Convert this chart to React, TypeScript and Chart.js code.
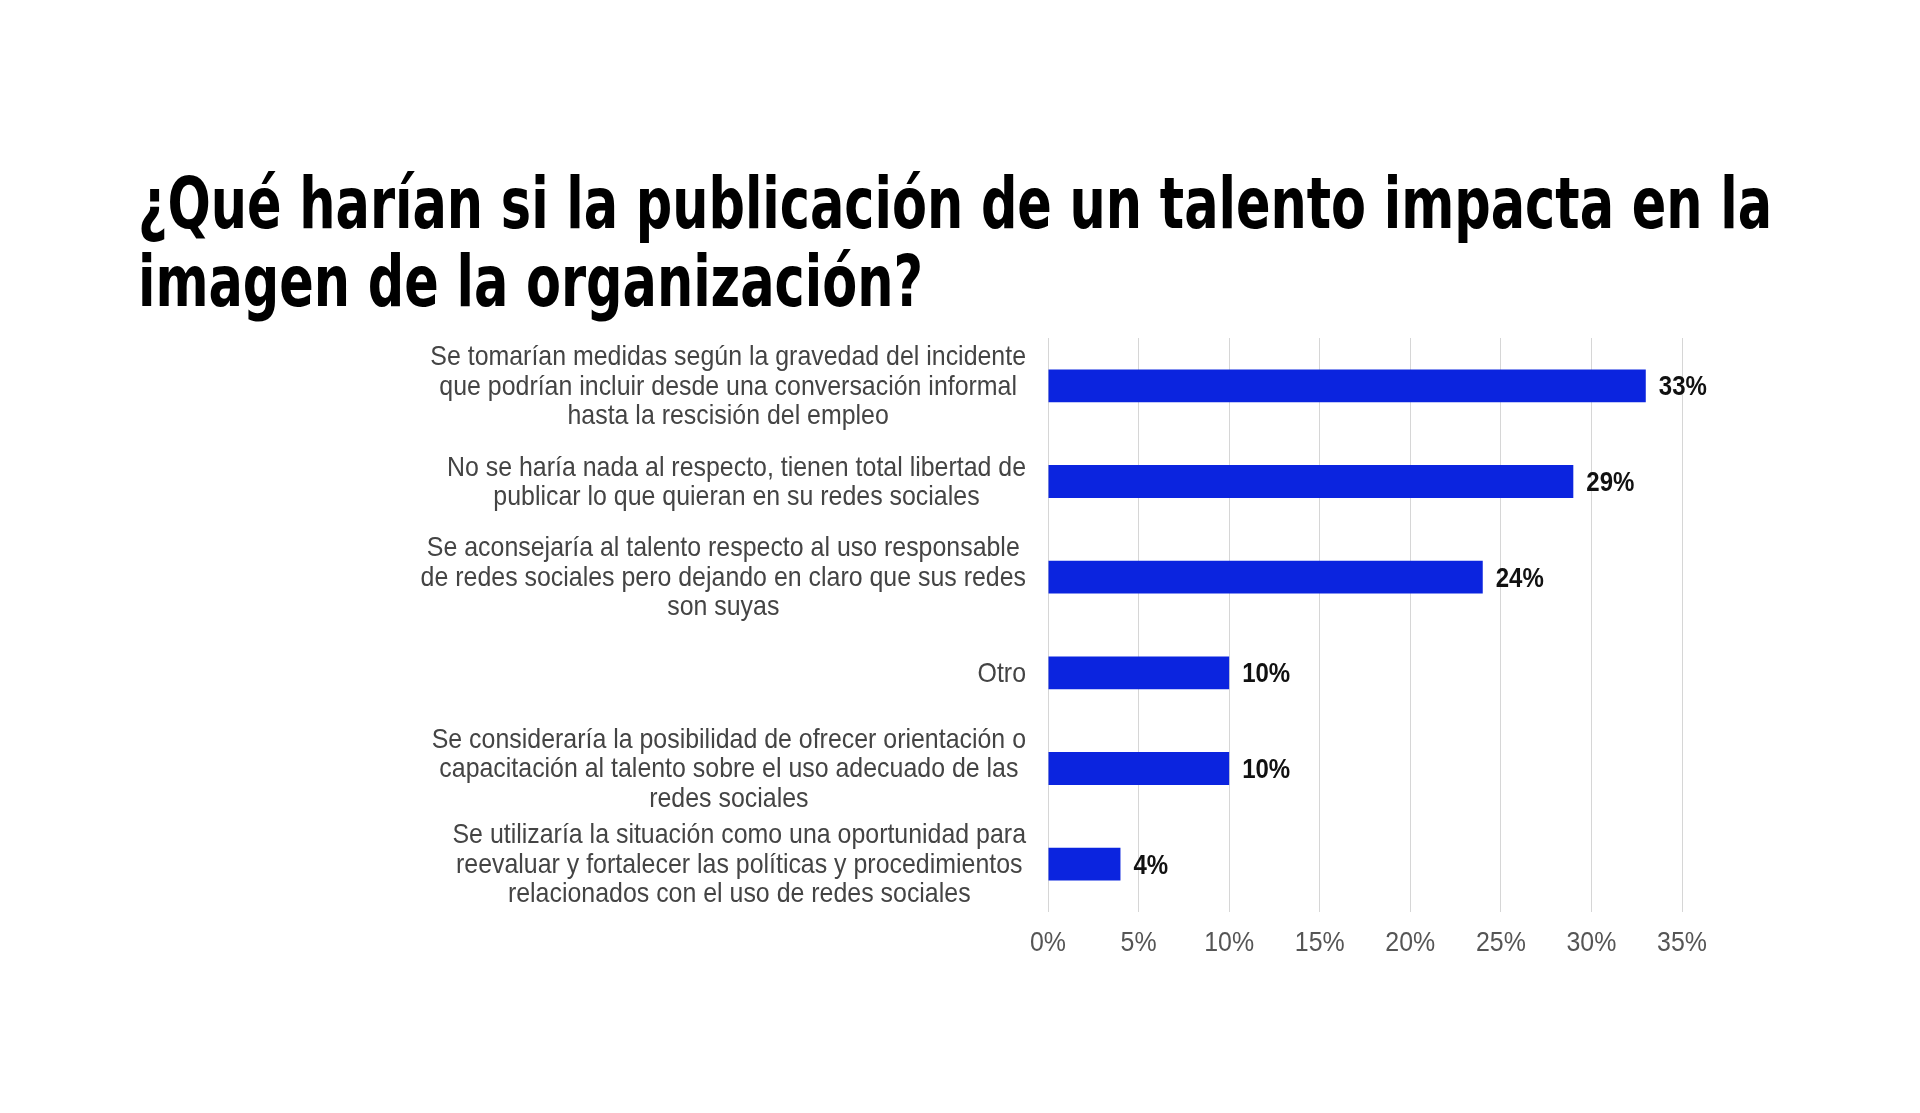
import React, { useEffect, useRef } from "react";
import { Chart, registerables } from "chart.js";

Chart.register(...registerables);

const TITLE_LINES = [
  "¿Qué harían si la publicación de un talento impacta en la",
  "imagen de la organización?",
];

const CATEGORY_LINES: string[][] = [
  [
    "Se tomarían medidas según la gravedad del incidente",
    "que podrían incluir desde una conversación informal",
    "hasta la rescisión del empleo",
  ],
  [
    "No se haría nada al respecto, tienen total libertad de",
    "publicar lo que quieran en su redes sociales",
  ],
  [
    "Se aconsejaría al talento respecto al uso responsable",
    "de redes sociales pero dejando en claro que sus redes",
    "son suyas",
  ],
  ["Otro"],
  [
    "Se consideraría la posibilidad de ofrecer orientación o",
    "capacitación al talento sobre el uso adecuado de las",
    "redes sociales",
  ],
  [
    "Se utilizaría la situación como una oportunidad para",
    "reevaluar y fortalecer las políticas y procedimientos",
    "relacionados con el uso de redes sociales",
  ],
];

const VALUES = [33, 29, 24, 10, 10, 4];
const X_MIN = 0;
const X_MAX = 35;
const X_STEP = 5;

const BAR_COLOR = "#0b24df";
const FONT_FAMILY = "'Liberation Sans', Arial, sans-serif";
const SQUEEZE = 0.89;
const LABEL_LINE_HEIGHT = 29.4;

function drawSqueezed(ctx: any, text: string, x: number, y: number, align: string) {
  ctx.save();
  ctx.translate(x, y);
  ctx.scale(SQUEEZE, 1);
  ctx.textAlign = align;
  ctx.fillText(text, 0, 0);
  ctx.restore();
}

const categoryLabelsPlugin = {
  id: "categoryLabels",
  afterDraw(chart: any) {
    const { ctx, chartArea } = chart;
    const yScale = chart.scales.y;
    ctx.save();
    ctx.font = "28px " + FONT_FAMILY;
    ctx.fillStyle = "#444444";
    ctx.textBaseline = "middle";
    const rightEdge = chartArea.left - 22;
    CATEGORY_LINES.forEach((lines, i) => {
      const cy = yScale.getPixelForValue(i);
      const widths = lines.map((l) => ctx.measureText(l).width * SQUEEZE);
      const blockW = Math.max(...widths);
      const cx = rightEdge - blockW / 2;
      const startY = cy - ((lines.length - 1) * LABEL_LINE_HEIGHT) / 2;
      lines.forEach((l, j) => {
        drawSqueezed(ctx, l, cx, startY + j * LABEL_LINE_HEIGHT + 1, "center");
      });
    });
    ctx.restore();
  },
};

const xTickLabelsPlugin = {
  id: "xTickLabels",
  afterDraw(chart: any) {
    const { ctx, chartArea } = chart;
    const xScale = chart.scales.x;
    ctx.save();
    ctx.font = "28px " + FONT_FAMILY;
    ctx.fillStyle = "#555555";
    ctx.textBaseline = "middle";
    xScale.ticks.forEach((t: any) => {
      const px = xScale.getPixelForValue(t.value);
      drawSqueezed(ctx, t.value + "%", px, chartArea.bottom + 31, "center");
    });
    ctx.restore();
  },
};

const valueLabelsPlugin = {
  id: "valueLabels",
  afterDatasetsDraw(chart: any) {
    const { ctx } = chart;
    const meta = chart.getDatasetMeta(0);
    ctx.save();
    ctx.font = "bold 27px " + FONT_FAMILY;
    ctx.fillStyle = "#111111";
    ctx.textBaseline = "middle";
    meta.data.forEach((bar: any, i: number) => {
      drawSqueezed(ctx, VALUES[i] + "%", bar.x + 13, bar.y + 2, "left");
    });
    ctx.restore();
  },
};

export default function App() {
  const canvasRef = useRef<HTMLCanvasElement | null>(null);
  const line1Ref = useRef<HTMLDivElement | null>(null);
  const line2Ref = useRef<HTMLDivElement | null>(null);

  useEffect(() => {
    const target = 1634;
    const el1 = line1Ref.current;
    const el2 = line2Ref.current;
    if (el1 && el2) {
      const w = el1.getBoundingClientRect().width;
      const s = w > 0 ? target / w : 1;
      el1.style.transform = `scaleX(${s})`;
      el2.style.transform = `scaleX(${s})`;
    }
  }, []);

  useEffect(() => {
    if (!canvasRef.current) return;
    const chart = new Chart(canvasRef.current, {
      type: "bar",
      data: {
        labels: CATEGORY_LINES.map((l) => l.join(" ")),
        datasets: [
          {
            data: VALUES,
            backgroundColor: BAR_COLOR,
            borderWidth: 0,
            categoryPercentage: 1,
            barPercentage: 0.344,
          },
        ],
      },
      options: {
        indexAxis: "y",
        responsive: false,
        animation: false,
        devicePixelRatio: 1,
        layout: {
          padding: { left: 1048, right: 238, top: 338, bottom: 201 },
        },
        plugins: {
          legend: { display: false },
          tooltip: { enabled: false },
          title: { display: false },
        },
        scales: {
          x: {
            type: "linear",
            min: X_MIN,
            max: X_MAX,
            border: { display: false },
            grid: {
              color: "#d6d6d6",
              lineWidth: 1,
              drawTicks: false,
            },
            ticks: {
              stepSize: X_STEP,
              display: false,
            },
          },
          y: {
            display: false,
            grid: { display: false },
          },
        },
      },
      plugins: [categoryLabelsPlugin, xTickLabelsPlugin, valueLabelsPlugin],
    } as any);
    return () => chart.destroy();
  }, []);

  const titleLineStyle: React.CSSProperties = {
    whiteSpace: "nowrap",
    display: "inline-block",
    transformOrigin: "left center",
  };

  return (
    <div
      style={{
        position: "fixed",
        left: 0,
        top: 0,
        width: 1920,
        height: 1113,
        background: "#ffffff",
        overflow: "hidden",
      }}
    >
      <canvas
        ref={canvasRef}
        width={1920}
        height={1113}
        style={{ position: "absolute", left: 0, top: 0, width: 1920, height: 1113 }}
      />
      <div
        style={{
          position: "absolute",
          left: 138,
          top: 164,
          fontFamily: "'Liberation Sans Narrow', 'DejaVu Sans Condensed', sans-serif",
          fontWeight: 700,
          fontSize: 72,
          lineHeight: "78px",
          color: "#000000",
        }}
      >
        <div><div ref={line1Ref} style={titleLineStyle}>{TITLE_LINES[0]}</div></div>
        <div><div ref={line2Ref} style={titleLineStyle}>{TITLE_LINES[1]}</div></div>
      </div>
    </div>
  );
}
